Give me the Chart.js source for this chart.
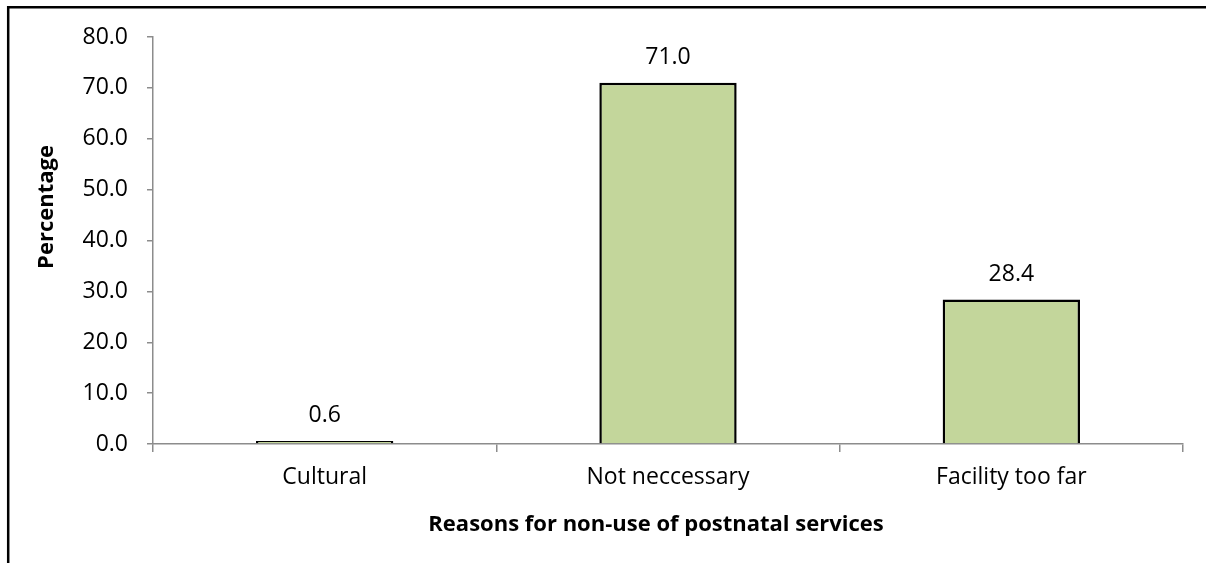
<!DOCTYPE html>
<html>
<head>
<meta charset="utf-8">
<script src="https://cdn.jsdelivr.net/npm/chart.js@4.4.1/dist/chart.umd.min.js"></script>
<style>
  html, body { margin: 0; padding: 0; background: #fff; }
  #wrap { position: relative; width: 1206px; height: 563px; }
</style>
</head>
<body>
<div id="wrap"><canvas id="reasonsChart" width="1206" height="563"></canvas></div>
<script>
// chart data
var categories = ['Cultural', 'Not neccessary', 'Facility too far'];
var percentages = [0.6, 71.0, 28.4];
var yTicks = [0, 10, 20, 30, 40, 50, 60, 70, 80];
var xTitle = 'Reasons for non-use of postnatal services';
var yTitle = 'Percentage';

var FONT = "'Open Sans', sans-serif";
var AXIS_GREY = '#8c8c8c';

// border, value labels and axis titles drawn on top of the chart
var extras = {
  id: 'extras',
  beforeDraw: function(chart) {
    var ctx = chart.ctx;
    ctx.save();
    ctx.strokeStyle = '#000';
    ctx.lineWidth = 2.5;
    ctx.beginPath();
    ctx.moveTo(8.2, chart.height);
    ctx.lineTo(8.2, 7.3);
    ctx.lineTo(chart.width, 7.3);
    ctx.stroke();
    ctx.restore();
  },
  afterDatasetsDraw: function(chart) {
    var ctx = chart.ctx;
    var meta = chart.getDatasetMeta(0);
    ctx.save();
    ctx.font = '23px ' + FONT;
    ctx.fillStyle = '#000';
    ctx.textAlign = 'center';
    ctx.textBaseline = 'middle';
    meta.data.forEach(function(bar, i) {
      ctx.fillText(percentages[i].toFixed(1), bar.x, bar.y - 25);
    });
    ctx.restore();
  },
  afterDraw: function(chart) {
    var ctx = chart.ctx;
    var area = chart.chartArea;
    ctx.save();
    ctx.fillStyle = '#000';
    ctx.font = 'bold 22px ' + FONT;
    ctx.textAlign = 'center';
    ctx.textBaseline = 'middle';
    // x axis title
    ctx.fillText(xTitle, (area.left + area.right) / 2 - 12, area.bottom + 81);
    // y axis title
    ctx.translate(47, area.top + 170);
    ctx.rotate(-Math.PI / 2);
    ctx.fillText(yTitle, 0, 0);
    ctx.restore();
  }
};

var ctx = document.getElementById('reasonsChart');
var reasonsChart = new Chart(ctx, {
  type: 'bar',
  data: {
    labels: categories,
    datasets: [{
      data: percentages,
      backgroundColor: '#c3d69b',
      borderColor: '#000',
      borderWidth: 2.5,
      categoryPercentage: 1,
      barPercentage: 0.4
    }]
  },
  plugins: [extras],
  options: {
    responsive: false,
    animation: false,
    devicePixelRatio: 1,
    layout: { padding: { top: 37, right: 23, bottom: 0, left: 0 } },
    plugins: {
      legend: { display: false },
      tooltip: { enabled: false }
    },
    scales: {
      x: {
        grid: {
          offset: true,
          drawOnChartArea: false,
          drawTicks: true,
          tickLength: 8,
          color: AXIS_GREY,
          lineWidth: 1.5
        },
        border: { display: true, color: AXIS_GREY, width: 1.5 },
        ticks: {
          color: '#000',
          font: { family: FONT, size: 23 },
          padding: 12,
          maxRotation: 0
        },
        afterFit: function(scale) { scale.height = 119; }
      },
      y: {
        min: 0,
        max: 80,
        afterBuildTicks: function(scale) {
          scale.ticks = yTicks.map(function(v) { return { value: v }; });
        },
        grid: {
          drawOnChartArea: false,
          drawTicks: true,
          tickLength: 6,
          color: AXIS_GREY,
          lineWidth: 1.5
        },
        border: { display: true, color: AXIS_GREY, width: 1.5 },
        ticks: {
          color: '#000',
          font: { family: FONT, size: 23 },
          padding: 19,
          callback: function(v) { return Number(v).toFixed(1); }
        },
        afterFit: function(scale) { scale.width = 153; }
      }
    }
  }
});
</script>
</body>
</html>
